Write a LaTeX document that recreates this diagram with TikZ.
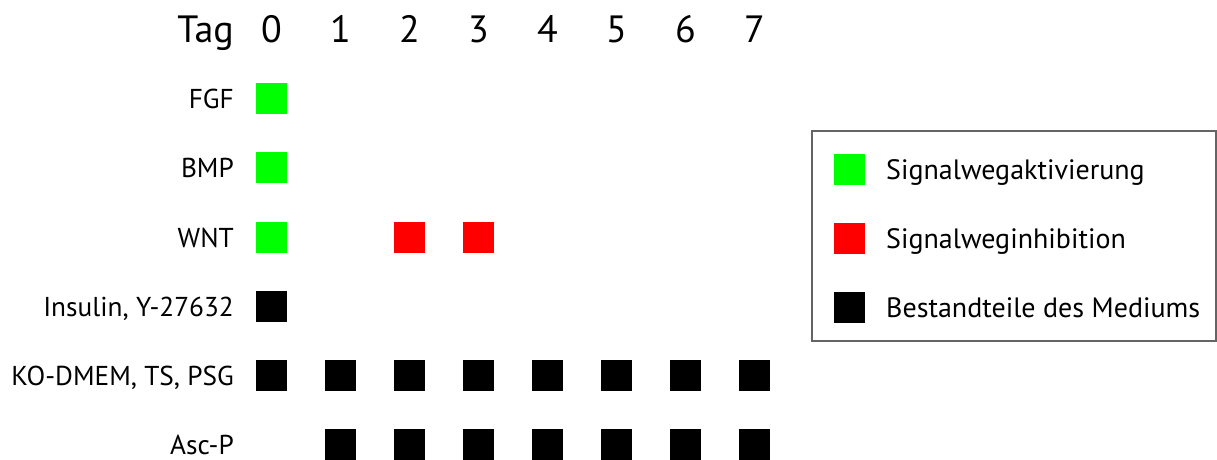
\documentclass[tikz,border=0pt]{standalone}
\usepackage{fontspec}
\setmainfont{PT Sans}
\definecolor{aktiv}{RGB}{0,255,0}
\definecolor{hemm}{RGB}{255,0,0}
\definecolor{rahmen}{RGB}{100,100,100}
\begin{document}
\begin{tikzpicture}[x=1pt,y=-1pt,
    feld/.style={rectangle, minimum size=31pt, inner sep=0pt},
    zeile/.style={anchor=base east, inner sep=0pt, font=\fontsize{27.3}{27.3}\selectfont},
    kopf/.style={anchor=base, inner sep=0pt, font=\fontsize{38}{38}\selectfont},
    legtext/.style={anchor=base west, inner sep=0pt, font=\fontsize{28}{28}\selectfont}]
    \useasboundingbox (0,0) rectangle (1217,459);

    % Kopfzeile
    \node[kopf, anchor=base east] (tag) at (234,42) {Tag};
    \foreach \d in {0,...,7}
        \node[kopf] (t\d) at ({271.5+69*\d},42) {\d};

    % Zeilenbeschriftung
    \node[zeile] (fgf) at (234,108) {FGF};
    \node[zeile] (bmp) at (234,177) {BMP};
    \node[zeile] (wnt) at (234,247) {WNT};
    \node[zeile] (ins) at (234,316) {Insulin, Y-27632};
    \node[zeile] (ko) at (234,385) {KO-DMEM, TS, PSG};
    \node[zeile] (asc) at (234,454) {Asc-P};

    % Tag 0
    \node[feld, fill=aktiv] (fgf0) at (271.5,98) {};
    \node[feld, fill=aktiv] (bmp0) at (271.5,167.5) {};
    \node[feld, fill=aktiv] (wnt0) at (271.5,237) {};
    \node[feld, fill=black] (ins0) at (271.5,306) {};

    % WNT-Hemmung
    \node[feld, fill=hemm] (wnt2) at (409.5,237) {};
    \node[feld, fill=hemm] (wnt3) at (478.5,237) {};

    % Medium
    \foreach \d in {0,...,7}
        \node[feld, fill=black] (ko\d) at ({271.5+69*\d},375) {};
    \foreach \d in {1,...,7}
        \node[feld, fill=black] (asc\d) at ({271.5+69*\d},444) {};

    % Legende
    \draw[rahmen, line width=1.2pt] (812,131) rectangle (1216,341);
    \node[feld, fill=aktiv] (lg) at (849,169) {};
    \node[feld, fill=hemm] (lr) at (849,238.5) {};
    \node[feld, fill=black] (ls) at (849,307.5) {};
    \node[legtext] (tg) at (886,179) {Signalwegaktivierung};
    \node[legtext] (tr) at (886,248.5) {Signalweginhibition};
    \node[legtext] (ts) at (886,317.5) {Bestandteile des Mediums};
\end{tikzpicture}
\end{document}
